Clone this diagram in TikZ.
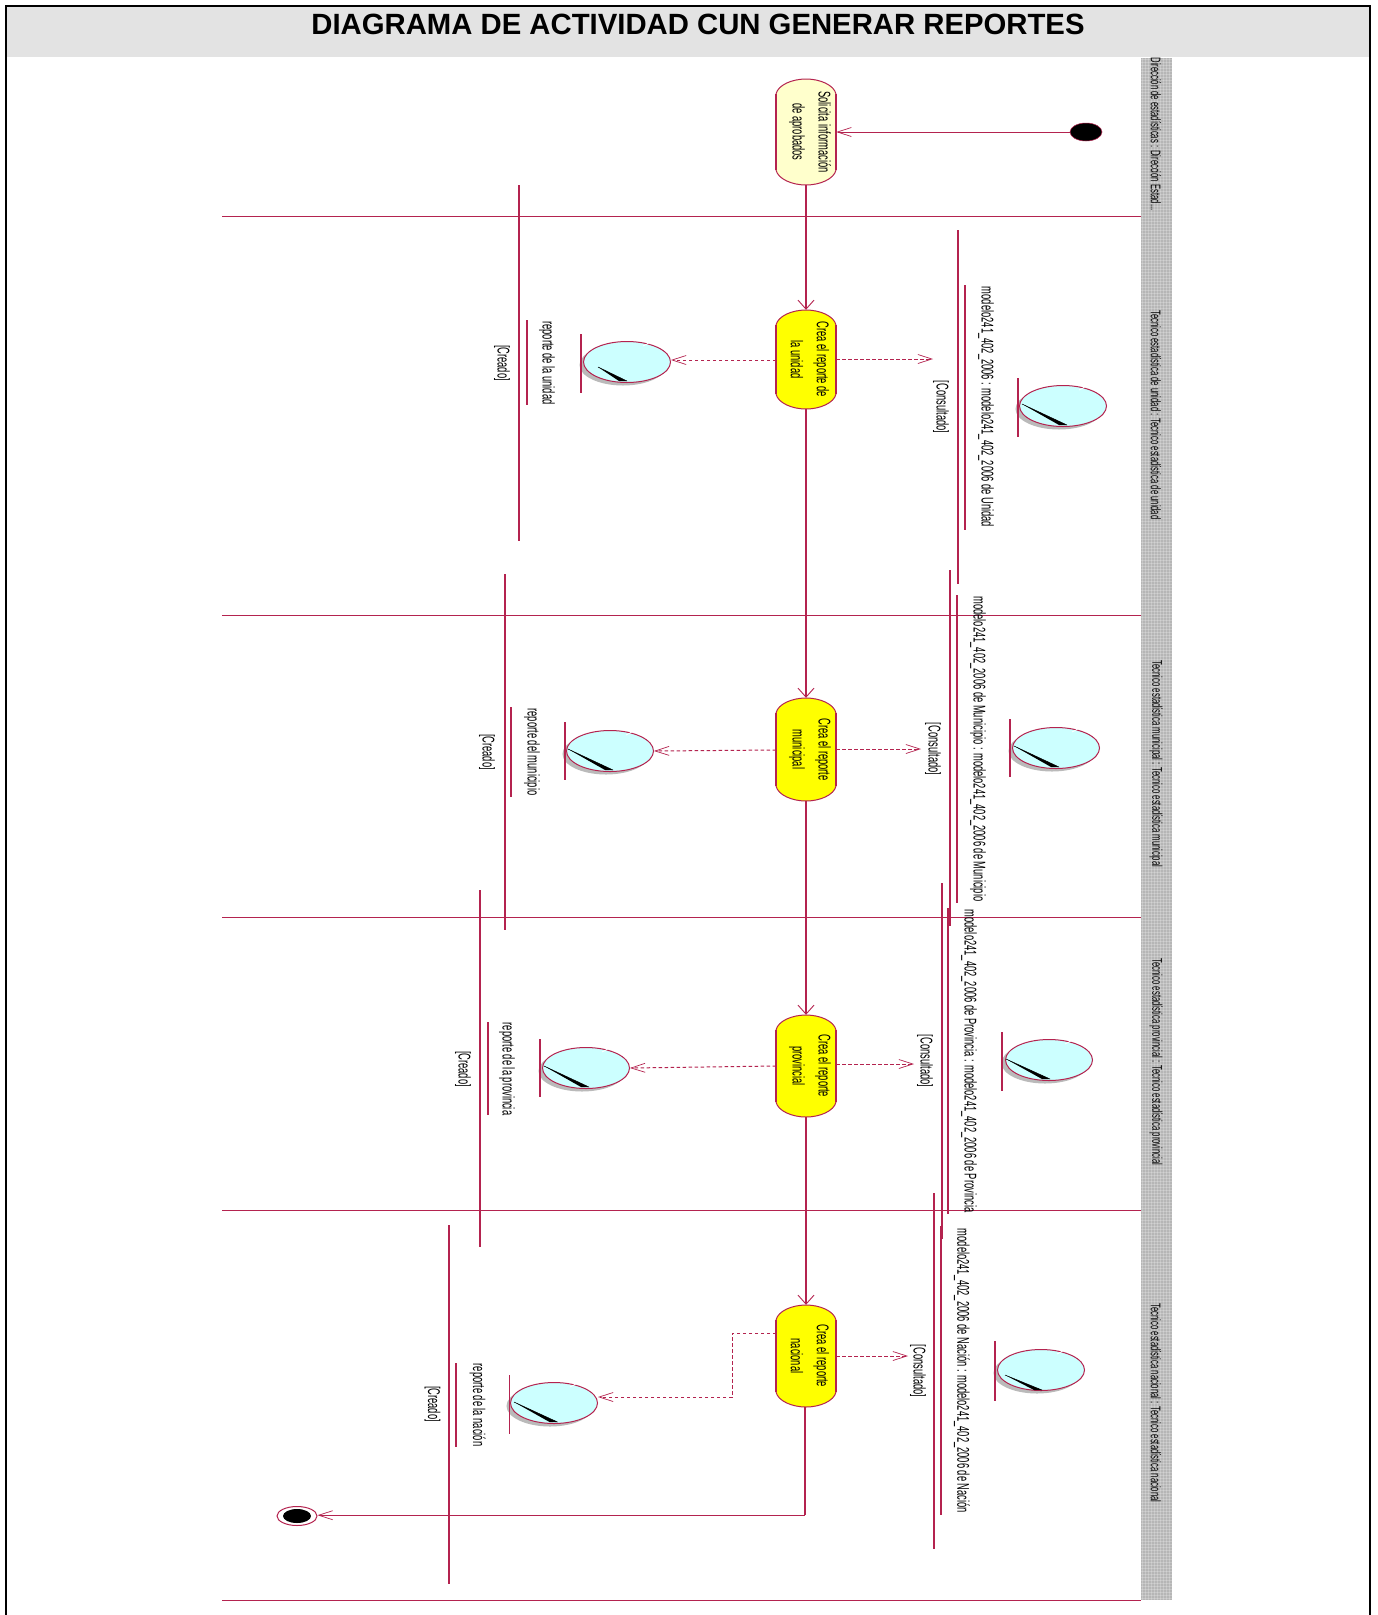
\documentclass[tikz,border=0pt]{standalone}
\usepackage{fontspec}
\usetikzlibrary{arrows.meta,shapes.geometric}
\setmainfont{Liberation Sans}
\newfontfamily\narr[FakeStretch=0.55]{Liberation Sans}
\definecolor{rose}{HTML}{B4234F}
\definecolor{cyanb}{HTML}{CCFFFF}
\definecolor{pale}{HTML}{FFFFCC}
\definecolor{yell}{HTML}{FFFF00}
\definecolor{bandg}{HTML}{B6B6B6}
\definecolor{hdr}{HTML}{E3E3E3}
\tikzset{
  wire/.style={draw=rose,line width=1pt},
  vwire/.style={draw=rose,line width=1.4pt},
  flowv/.style={vwire,-{Straight Barb[length=9pt,width=16pt,line width=0.9pt]}},
  flowh/.style={wire,-{Straight Barb[length=14pt,width=9pt,line width=0.7pt]}},
  dep/.style={flowh,dash pattern=on 3.5pt off 2.5pt},
  bigtxt/.style={font=\narr\fontsize{17}{26}\selectfont,rotate=-90,align=center,inner sep=0pt,text=black},
  lbl/.style={font=\narr\fontsize{17}{20}\selectfont,rotate=-90,inner sep=0pt,text=black},
  bandt/.style={font=\narr\fontsize{14}{16}\selectfont,rotate=-90,inner sep=0pt,text=black},
}
% name, cy1, cy2, fill, text
\newcommand{\activ}[5]{%
  \fill[#4] (776,#2+15) .. controls (778,#2+6) and (792,#2) .. (806,#2)
    .. controls (820,#2) and (834,#2+6) .. (836,#2+15) -- (836,#3-15)
    .. controls (834,#3-6) and (820,#3) .. (806,#3)
    .. controls (792,#3) and (778,#3-6) .. (776,#3-15) -- cycle;
  \draw[rose,line width=1pt] (776,#2+15) .. controls (778,#2+6) and (792,#2) .. (806,#2)
    .. controls (820,#2) and (834,#2+6) .. (836,#2+15);
  \draw[rose,line width=1pt] (836,#3-15)
    .. controls (834,#3-6) and (820,#3) .. (806,#3)
    .. controls (792,#3) and (778,#3-6) .. (776,#3-15);
  \draw[rose,line width=1.6pt] (776,#2+15) -- (776,#3-15) (836,#2+15) -- (836,#3-15);
  \node[rectangle,minimum width=60pt,minimum height=#3pt-#2pt,inner sep=0pt] (#1) at (806,{(#2+#3)/2}) {};
  \node[bigtxt] at ([xshift=4pt]#1.center) {#5};
}
% name, cx, cy, barx, bar1, bar2, diag x1,y1,x2,y2
\newcommand{\objst}[9]{%
  \fill[black!27] (#2-4,#3+3) ellipse[x radius=43.5pt,y radius=20.5pt];
  \node[ellipse,draw=rose,line width=1pt,fill=cyanb,minimum width=87pt,minimum height=41pt,inner sep=0pt] (#1) at (#2,#3) {};
  \draw[white,line width=0.8pt] ([shift={(-3,3)}]#1.45) arc[start angle=-45,end angle=-5,x radius=38pt,y radius=16pt];
  \fill[black] (#7,#8) -- (#9) -- ++(-8,0) -- cycle;
  \draw[black,line width=0.5pt] (#7,#8) -- (#9);
  \draw[rose,line width=1.4pt] (#4,#5) -- (#4,#6);
}
\begin{document}
\begin{tikzpicture}[x=1pt,y=-1pt]
\useasboundingbox (0,0) rectangle (1378,1615);
\fill[white] (0,0) rectangle (1378,1615);
\fill[hdr] (6,6) rectangle (1370,57);
\draw[black,line width=1.8pt] (6,1615) -- (6,6) -- (1370,6) -- (1370,1615);
\node[font=\bfseries\fontsize{29.3}{32}\selectfont,inner sep=0pt] (title) at (698,24) {DIAGRAMA DE ACTIVIDAD CUN GENERAR REPORTES};
% band
\fill[bandg] (1141,58) rectangle (1172,1600);
\foreach \xx in {1142,1145,...,1172} \draw[white,opacity=0.22,line width=1pt] (\xx,58) -- (\xx,1600);
\foreach \yy in {59,62,...,1600} \draw[white,opacity=0.22,line width=1pt] (1141,\yy) -- (1172,\yy);
\node[bandt] at (1156,134) {Dirección de estadísticas : Dirección Estad...};
\node[bandt] at (1156,415) {Tecnico estadística de unidad : Tecnico estadística de unidad};
\node[bandt] at (1156,764) {Tecnico estadística municipal : Tecnico estadística municipal};
\node[bandt] at (1156,1062) {Tecnico estadística provincial : Tecnico estadística provincial};
\node[bandt] at (1156,1403) {Tecnico estadística nacional : Tecnico estadística nacional};
% lanes
\foreach \yy in {216,615,917,1210,1600} \draw[wire] (222,\yy) -- (1141,\yy);
% state lines
\foreach \xx/\ya/\yb in {519/185/541,527/320/405,505/574/930,511/707/797,480/890/1247,488/1022/1115,449/1225/1584,456/1363/1447,
  958/230/584,965/285/530,950/570/926,957/595/903,942/883/1239,948/908/1214,941/1226/1515,934/1193/1549}
  \draw[vwire] (\xx,\ya) -- (\xx,\yb);
% labels
\node[lbl] at (547,363) {reporte de la unidad};
\node[lbl] at (502,363) {[Creado]};
\node[lbl] at (986,407) {modelo241\_402\_2006 : modelo241\_402\_2006 de Unidad};
\node[lbl] at (941,407) {[Consultado]};
\node[lbl] at (532,752) {reporte del municipio};
\node[lbl] at (487,752) {[Creado]};
\node[lbl] at (978,749) {modelo241\_402\_2006 de Municipio : modelo241\_402\_2006 de Municipio};
\node[lbl] at (933,749) {[Consultado]};
\node[lbl] at (507,1069) {reporte de la provincia};
\node[lbl] at (463,1069) {[Creado]};
\node[lbl] at (969,1061) {modelo241\_402\_2006 de Provincia : modelo241\_402\_2006 de Provincia};
\node[lbl] at (925,1061) {[Consultado]};
\node[lbl] at (477.5,1405) {reporte de la nación};
\node[lbl] at (432.5,1404) {[Creado]};
\node[lbl] at (962,1371) {modelo241\_402\_2006 de Nación : modelo241\_402\_2006 de Nación};
\node[lbl] at (918,1371) {[Consultado]};
% objects
\objst{ou}{627}{362}{581}{334}{393}{598}{367}{627,381}
\objst{cu}{1063}{406}{1018}{378}{437}{1022}{404}{1067,425}
\objst{om}{610}{751}{565}{722}{780}{568}{749}{613,770}
\objst{cm}{1056}{748}{1010}{719}{777}{1014}{746}{1059,767}
\objst{op}{586}{1068}{540}{1039}{1097}{544}{1066}{589,1087}
\objst{cp}{1049}{1060}{1002}{1032}{1091}{1006}{1059}{1050,1079}
\objst{on}{554}{1403}{509.5}{1375}{1434}{514}{1402}{557.5,1422}
\objst{cn}{1041}{1370}{995}{1341}{1401}{1005}{1375}{1042,1390}
% activities
\activ{a0}{79}{185}{pale}{Solicita información\\de aprobados}
\activ{a1}{310}{409}{yell}{Crea el reporte de\\la unidad}
\activ{a2}{698}{801}{yell}{Crea el reporte\\municipal}
\activ{a3}{1015}{1117}{yell}{Crea el reporte\\provincial}
\activ{a4}{1305}{1407}{yell}{Crea el reporte\\nacional}
% start, end
\node[ellipse,fill=black,draw=rose,line width=0.5pt,minimum width=32pt,minimum height=18pt,inner sep=0pt] (st) at (1086,132) {};
\node[ellipse,draw=rose,line width=1pt,fill=white,minimum width=40pt,minimum height=19pt,inner sep=0pt] (en) at (297,1516) {};
\fill[black] (en.center) ellipse[x radius=14pt,y radius=7pt];
% free ends of the dependencies
\coordinate (k1) at (933,359);
\coordinate (k2) at (921,749);
\coordinate (k3) at (914,1064);
\coordinate (k4) at (908,1356);
% control flows
\draw[flowh] (st) -- (a0.east |- st);
\draw[flowv] (a0) -- (a1);
\draw[flowv] (a1) -- (a2);
\draw[flowv] (a2) -- (a3);
\draw[flowv] (a3) -- (a4);
\draw[vwire] (a4.south) ++(-1,0) -- ++(0,108) coordinate (elb);
\draw[flowh] (elb) -- (en.east |- elb);
% dependencies
\draw[dep] (776,360) -- (ou.east |- 0,360);
\draw[dep] (836,359) -- (k1);
\draw[dep] (776,750) -- (om.east |- 0,751);
\draw[dep] (836,749) -- (k2);
\draw[dep] (776,1066) -- (op.east |- 0,1068);
\draw[dep] (836,1064) -- (k3);
\draw[dep] (776,1333) -- (732,1333) -- (732,1397) -- (on.east |- 0,1397);
\draw[dep] (836,1356) -- (k4);
\end{tikzpicture}
\end{document}
